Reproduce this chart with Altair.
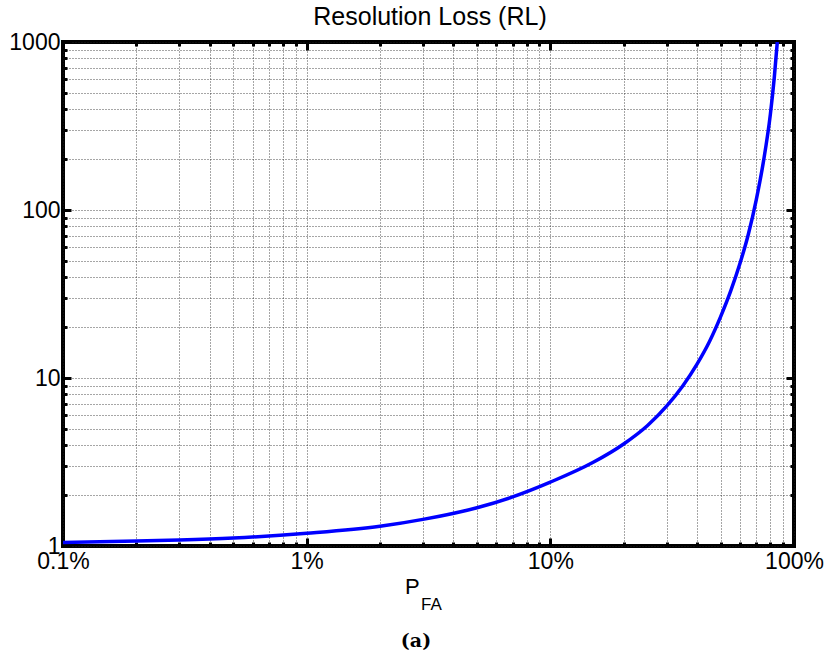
import altair as alt
import pandas as pd

# ---- data ----
p_fa = [0.001, 0.002, 0.003, 0.005, 0.01, 0.02, 0.03, 0.05, 0.07, 0.1,
        0.15, 0.2, 0.25, 0.3, 0.35, 0.4, 0.45, 0.5, 0.55, 0.6,
        0.65, 0.7, 0.75, 0.8, 0.83, 0.854]
rl = [1.05, 1.07, 1.085, 1.115, 1.19, 1.31, 1.44, 1.69, 1.96, 2.4,
      3.15, 4.05, 5.2, 6.8, 9.0, 12.1, 16.5, 23.2, 33.0, 48.0,
      72.0, 115.0, 196.0, 372.0, 615.0, 1000.0]

x_major = [0.001, 0.01, 0.1, 1]
x_major_labels = ["0.1%", "1%", "10%", "100%"]
x_minor = [0.001, 0.002, 0.003, 0.004, 0.005, 0.006, 0.007, 0.008, 0.009,
           0.01, 0.02, 0.03, 0.04, 0.05, 0.06, 0.07, 0.08, 0.09,
           0.1, 0.2, 0.3, 0.4, 0.5, 0.6, 0.7, 0.8, 0.9, 1]
y_major = [1, 10, 100, 1000]
y_major_labels = ["1", "10", "100", "1000"]
y_minor = [1, 2, 3, 4, 5, 6, 7, 8, 9,
           10, 20, 30, 40, 50, 60, 70, 80, 90,
           100, 200, 300, 400, 500, 600, 700, 800, 900, 1000]

title_text = ["Resolution Loss (RL)"]
x_title_main = ["P"]
x_title_sub = ["FA"]
caption = ["(a)"]

FONT = "Liberation Sans"


def label_expr(vals, labels):
    expr = "''"
    for v, lab in reversed(list(zip(vals, labels))):
        expr = f"abs(datum.value - {v}) < {v} * 1e-6 ? '{lab}' : ({expr})"
    return expr


df = pd.DataFrame({"p": p_fa, "rl": rl})
xs = alt.Scale(type="log", domain=[0.001, 1], nice=False)
ys = alt.Scale(type="log", domain=[1, 1000], nice=False)

common = dict(domain=False, title=None, tickColor="black", tickWidth=3,
              labelFlush=False, labelOverlap=False)


def major_axis(orient, vals, labels=None):
    kw = dict(common)
    kw.update(orient=orient, values=vals, tickSize=8, offset=-8, grid=False)
    if labels is not None:
        kw.update(labels=True, labelExpr=label_expr(vals, labels), labelFont=FONT,
                  labelFontSize=23, labelColor="black",
                  labelPadding=4 if orient == "bottom" else 3)
    else:
        kw.update(labels=False)
    return alt.Axis(**kw)


def minor_axis(orient, vals, grid):
    kw = dict(common)
    kw.update(orient=orient, values=vals, tickSize=4, offset=-4, labels=False, grid=grid)
    if grid:
        kw.update(gridDash=[1, 2], gridColor="#222222", gridOpacity=0.8, gridWidth=1)
    return alt.Axis(**kw)


def line_layer(x_axis, y_axis, visible):
    return alt.Chart(df).mark_line(
        color="#0000FF", strokeWidth=3.5, opacity=1 if visible else 0,
        interpolate="monotone", clip=True
    ).encode(
        x=alt.X("p:Q", scale=xs, axis=x_axis),
        y=alt.Y("rl:Q", scale=ys, axis=y_axis),
    )


l_grid = line_layer(minor_axis("bottom", x_minor, True), minor_axis("left", y_minor, True), False)
l_top_minor = line_layer(minor_axis("top", x_minor, False), minor_axis("right", y_minor, False), False)
l_top_major = line_layer(major_axis("top", x_major), major_axis("right", y_major), False)
l_main = line_layer(major_axis("bottom", x_major, x_major_labels),
                    major_axis("left", y_major, y_major_labels), True)

t_title = alt.Chart(pd.DataFrame({"t": title_text})).mark_text(
    font=FONT, fontSize=25, align="center", baseline="alphabetic", color="black"
).encode(x=alt.value(367), y=alt.value(-17), text="t:N")
t_p = alt.Chart(pd.DataFrame({"t": x_title_main})).mark_text(
    font=FONT, fontSize=22, align="left", baseline="alphabetic", color="black"
).encode(x=alt.value(342), y=alt.value(552), text="t:N")
t_fa = alt.Chart(pd.DataFrame({"t": x_title_sub})).mark_text(
    font=FONT, fontSize=17, align="left", baseline="alphabetic", color="black"
).encode(x=alt.value(358), y=alt.value(568), text="t:N")
t_cap = alt.Chart(pd.DataFrame({"t": caption})).mark_text(
    font="DejaVu Serif", fontSize=19, fontWeight="bold", align="center",
    baseline="alphabetic", color="black"
).encode(x=alt.value(353), y=alt.value(605), text="t:N")

chart = alt.layer(
    l_grid, l_top_minor, l_top_major, l_main, t_title, t_p, t_fa, t_cap
).resolve_axis(
    x="independent", y="independent"
).properties(
    width=731, height=504,
    padding={"left": 63, "top": 42, "right": 35, "bottom": 109},
    autosize=alt.AutoSizeParams(type="none"),
    background="white",
).configure_view(
    stroke="black", strokeWidth=4
)

chart.save("out.html", embed_options={"renderer": "svg", "actions": False})
